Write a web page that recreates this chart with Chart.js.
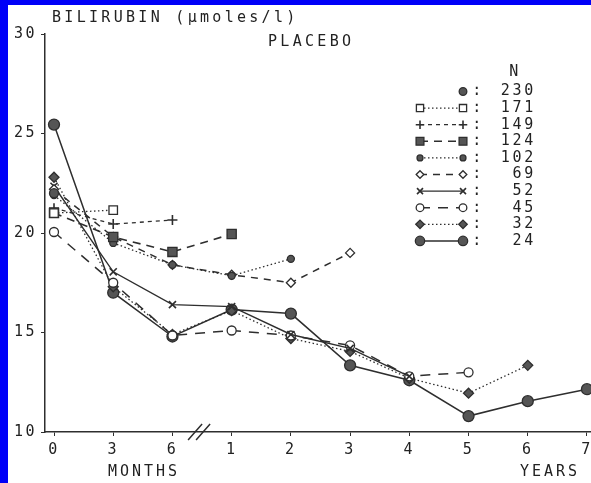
<!DOCTYPE html>
<html>
<head>
<meta charset="utf-8">
<script src="https://cdn.jsdelivr.net/npm/chart.js@4.4.0/dist/chart.umd.min.js"></script>
<style>
  html, body { margin: 0; padding: 0; }
  body { background: #0000f8; width: 591px; height: 483px; overflow: hidden; position: relative; }
  #plot { position: absolute; left: 8px; top: 5px; background: #ffffff; }
</style>
</head>
<body>
<canvas id="plot" width="583" height="478"></canvas>
<script>
// time points: 0/3/6 months, then years 1..7
var xLabels = ['0', '3', '6', '1', '2', '3', '4', '5', '6', '7'];
var yTicks = [10, 15, 20, 25, 30];
var nValues = [230, 171, 149, 124, 102, 69, 52, 45, 32, 24];

// mean bilirubin per patient group (group = patients followed up to that visit)
var n230 = [22.0];
var n171 = [21.0, 21.15];
var n149 = [21.25, 20.45, 20.65];
var n124 = [21.0, 19.8, 19.05, 19.95];
var n102 = [21.9, 19.5, 18.4, 17.85, 18.7];
var n69  = [22.2, 19.8, 18.4, 17.9, 17.5, 19.0];
var n52  = [22.35, 18.05, 16.4, 16.3, 14.9, 14.2, 12.8];
var n45  = [20.05, 17.5, 14.85, 15.1, 14.85, 14.35, 12.8, 13.0];
var n32  = [22.8, 17.3, 14.9, 16.1, 14.7, 14.05, 12.7, 11.95, 13.35];
var n24  = [25.45, 17.0, 14.8, 16.15, 15.95, 13.35, 12.6, 10.8, 11.55, 12.15];

var ink = '#2e2e2e';
var dot = '#555555';
var FONT = '"DejaVu Sans Mono", "Liberation Mono", monospace';

function pts(arr) {
  return arr.map(function(v, i) { return {x: i, y: v}; });
}

function series(arr, n, style) {
  return {
    label: String(n),
    data: pts(arr),
    borderColor: ink,
    borderWidth: style.lw || 1.3,
    borderDash: style.dash || [],
    showLine: style.line !== false,
    pointStyle: style.shape,
    pointRadius: style.r,
    pointBorderColor: ink,
    pointBorderWidth: style.pbw || 1.3,
    pointBackgroundColor: style.open ? '#ffffff' : dot,
    tension: 0,
    fill: false,
    clip: false
  };
}

var datasets = [
  series(n230, nValues[0], {shape: 'circle', r: 4.5, line: false}),
  series(n171, nValues[1], {shape: 'rect', r: 6, open: true, dash: [1.5, 2.5]}),
  series(n149, nValues[2], {shape: 'cross', r: 5, pbw: 1.6, dash: [4, 4]}),
  series(n124, nValues[3], {shape: 'rect', r: 6.5, dash: [8, 6], lw: 1.6}),
  series(n102, nValues[4], {shape: 'circle', r: 3.5, dash: [1.5, 2.5]}),
  series(n69,  nValues[5], {shape: 'rectRot', r: 4.5, open: true, dash: [7, 6], lw: 1.5}),
  series(n52,  nValues[6], {shape: 'crossRot', r: 5, pbw: 1.6, lw: 1.4}),
  series(n45,  nValues[7], {shape: 'circle', r: 4.5, open: true, dash: [10, 8], lw: 1.5}),
  series(n32,  nValues[8], {shape: 'rectRot', r: 5, dash: [1.5, 2.5]}),
  series(n24,  nValues[9], {shape: 'circle', r: 5.5, lw: 1.5})
];

// text, axis break and the N legend
var decor = {
  id: 'decor',
  beforeDraw: function(chart) {
    chart.ctx.letterSpacing = '2.5px';
  },
  afterDraw: function(chart) {
    var ctx = chart.ctx;
    var xs = chart.scales.x, ys = chart.scales.y;
    ctx.save();
    ctx.fillStyle = '#222';
    ctx.font = '15px ' + FONT;
    ctx.letterSpacing = '3.3px';
    ctx.textBaseline = 'middle';
    ctx.textAlign = 'left';
    ctx.fillText('BILIRUBIN (\u03bcmoles/l)', 44, 13);
    ctx.fillText('PLACEBO', 260, 37);
    ctx.textAlign = 'center';
    ctx.letterSpacing = '3px';
    ctx.fillText('MONTHS', 136, 467);
    ctx.fillText('YEARS', 542, 467);

    // axis break between months and years
    var bx = xs.getPixelForValue(2.45), by = ys.bottom;
    ctx.strokeStyle = ink;
    ctx.lineWidth = 1.5;
    ctx.beginPath();
    ctx.moveTo(bx - 11, by + 8); ctx.lineTo(bx + 3, by - 8);
    ctx.moveTo(bx - 3, by + 8);  ctx.lineTo(bx + 11, by - 8);
    ctx.stroke();

    // legend
    ctx.letterSpacing = '2.7px';
    ctx.textAlign = 'center';
    ctx.fillText('N', 507, 67);
    var x0 = 412, x1 = 455;
    chart.data.datasets.forEach(function(ds, i) {
      var y = 86.5 + i * 16.6;
      if (ds.showLine) {
        ctx.setLineDash(ds.borderDash);
        ctx.lineWidth = ds.borderWidth;
        ctx.beginPath();
        ctx.moveTo(x0, y); ctx.lineTo(x1, y);
        ctx.stroke();
        ctx.setLineDash([]);
      }
      ctx.fillStyle = ds.pointBackgroundColor;
      ctx.strokeStyle = ink;
      ctx.lineWidth = ds.pointBorderWidth;
      var opt = {pointStyle: ds.pointStyle, radius: ds.pointRadius * 0.85, borderWidth: ds.pointBorderWidth, rotation: 0};
      if (ds.showLine) Chart.helpers.drawPoint(ctx, opt, x0, y);
      Chart.helpers.drawPoint(ctx, opt, x1, y);
      ctx.fillStyle = '#222';
      ctx.textAlign = 'center';
      ctx.fillText(':', 470, y);
      ctx.textAlign = 'right';
      ctx.fillText(ds.label, 528, y);
    });
    ctx.restore();
  }
};

new Chart(document.getElementById('plot'), {
  type: 'scatter',
  data: { datasets: datasets },
  plugins: [decor],
  options: {
    responsive: false,
    animation: false,
    devicePixelRatio: 1,
    layout: { autoPadding: false, padding: { top: 29, left: 0, right: 0, bottom: 0 } },
    plugins: { legend: { display: false }, tooltip: { enabled: false } },
    scales: {
      x: {
        type: 'linear',
        min: -0.152,
        max: 9.068,
        afterBuildTicks: function(s) { s.ticks = xLabels.map(function(_, i) { return {value: i}; }); },
        afterFit: function(s) { s.height = 51; s.paddingLeft = 0; s.paddingRight = 0; },
        border: { color: ink, width: 1.5 },
        grid: { drawOnChartArea: false, drawTicks: true, tickLength: 4, color: ink },
        ticks: {
          color: '#222',
          padding: 5,
          maxRotation: 0,
          font: { family: FONT, size: 15 },
          callback: function(v) { return xLabels[v]; }
        }
      },
      y: {
        min: 10,
        max: 30,
        afterBuildTicks: function(s) { s.ticks = yTicks.map(function(v) { return {value: v}; }); },
        afterFit: function(s) { s.width = 37; },
        border: { color: ink, width: 1.5 },
        grid: { drawOnChartArea: false, drawTicks: true, tickLength: 4, color: ink },
        ticks: {
          color: '#222',
          padding: 4,
          font: { family: FONT, size: 15 }
        }
      }
    }
  }
});
</script>
</body>
</html>
